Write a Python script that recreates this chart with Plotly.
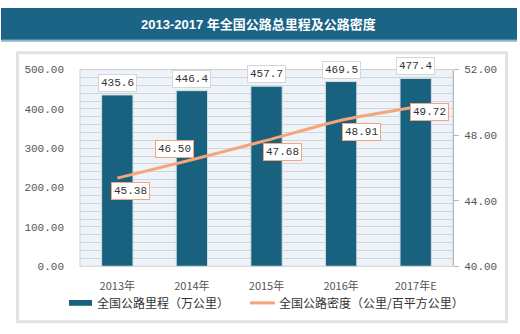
import plotly.graph_objects as go

categories = ["2013年", "2014年", "2015年", "2016年", "2017年E"]
mileage = [435.6, 446.4, 457.7, 469.5, 477.4]
density = [45.38, 46.50, 47.68, 48.91, 49.72]
left_ticks = [0, 100, 200, 300, 400, 500]
right_ticks = [40, 44, 48, 52]
title = "2013-2017 年全国公路总里程及公路密度"
legend_names = ["全国公路里程（万公里）", "全国公路密度（公里/百平方公里）"]

W, H = 520, 334
x0, x1 = 80, 453
y_top, y_bot = 67, 271

NUM_FONT = "Liberation Mono, DejaVu Sans Mono, monospace"
CJK_FONT = "Noto Sans CJK SC, sans-serif"
TITLE_FONT = "Liberation Sans, Noto Sans CJK SC, sans-serif"

fig = go.Figure()
fig.add_trace(go.Bar(
    x=categories, y=mileage, name=legend_names[0],
    marker=dict(color="#18627f", line=dict(color="#d5dde3", width=1)),
    width=0.42, showlegend=False, yaxis="y",
))
fig.add_trace(go.Scatter(
    x=categories, y=density, name=legend_names[1], mode="lines",
    line=dict(color="#f4a57a", width=3, shape="spline", smoothing=0.6),
    showlegend=False, yaxis="y2",
))

annotations = []
for c, v in zip(categories, mileage):
    annotations.append(dict(
        x=c, y=v, xref="x", yref="y", text=f"{v:.1f}", showarrow=False,
        yanchor="bottom", yshift=3, bgcolor="white", bordercolor="#d6d6d6",
        borderwidth=1, borderpad=2, font=dict(family=NUM_FONT, size=11, color="#333333"),
    ))
offsets = [(13, -13), (-17, 11), (16, -12), (20, -12), (14, -5)]
for c, v, (dx, dy) in zip(categories, density, offsets):
    annotations.append(dict(
        x=c, y=v, xref="x", yref="y2", text=f"{v:.2f}", showarrow=False,
        xshift=dx, yshift=dy, bgcolor="white", bordercolor="#f4a57a",
        borderwidth=1, borderpad=2, font=dict(family=NUM_FONT, size=11, color="#333333"),
    ))
annotations.append(dict(
    x=258 / W, y=1 - 20 / H, xref="paper", yref="paper", text="<b>" + title + "</b>",
    showarrow=False, xanchor="center", yanchor="middle",
    font=dict(family=TITLE_FONT, size=13, color="white"),
))
annotations.append(dict(
    x=95 / W, y=1 - 309 / H, xref="paper", yref="paper", text=legend_names[0],
    showarrow=False, xanchor="left", yanchor="middle",
    font=dict(family=CJK_FONT, size=12, color="#333333"),
))
annotations.append(dict(
    x=277 / W, y=1 - 309 / H, xref="paper", yref="paper", text=legend_names[1],
    showarrow=False, xanchor="left", yanchor="middle",
    font=dict(family=CJK_FONT, size=12, color="#333333"),
))

def px(x):
    return x / W

def py(y):
    return 1 - y / H

shapes = [
    dict(type="rect", xref="paper", yref="paper", x0=px(1), x1=px(517), y0=py(38), y1=py(36),
         fillcolor="#8fb6ca", line=dict(width=0), layer="below"),
    dict(type="rect", xref="paper", yref="paper", x0=px(1), x1=px(517), y0=py(36), y1=py(3),
         fillcolor="#1b6485", line=dict(width=0), layer="below"),
    dict(type="rect", xref="paper", yref="paper", x0=px(16), x1=px(508), y0=py(330), y1=py(48),
         fillcolor="#e2e2e2", line=dict(width=0), layer="below"),
    dict(type="rect", xref="paper", yref="paper", x0=px(19), x1=px(505), y0=py(327), y1=py(51),
         fillcolor="white", line=dict(width=0), layer="below"),
    dict(type="rect", xref="paper", yref="paper", x0=px(x0), x1=px(x1), y0=py(y_bot), y1=py(y_top),
         fillcolor="#edf3f8", line=dict(color="#c9cfd6", width=1), layer="below"),
    dict(type="rect", xref="paper", yref="paper", x0=px(69), x1=px(92), y0=py(312), y1=py(306),
         fillcolor="#18627f", line=dict(width=0)),
    dict(type="line", xref="paper", yref="paper", x0=px(250), x1=px(275), y0=py(309), y1=py(309),
         line=dict(color="#f4a57a", width=3)),
]

fig.update_layout(
    width=W, height=H, margin=dict(l=0, r=0, t=0, b=0),
    paper_bgcolor="white", plot_bgcolor="rgba(0,0,0,0)",
    xaxis=dict(domain=[px(x0), px(x1)], showgrid=False, showline=False, ticks="",
               ticklabelstandoff=12,
               tickfont=dict(family=CJK_FONT, size=11, color="#555555")),
    yaxis=dict(domain=[py(y_bot), py(y_top)], range=[0, 500], tickvals=left_ticks,
               ticktext=[f"{t:.2f}" for t in left_ticks], showgrid=True, gridcolor="#cfd5dc",
               gridwidth=1, minor=dict(dtick=20, showgrid=True, gridcolor="#cfd5dc", gridwidth=1),
               zeroline=False, showline=False, ticks="", ticklabelstandoff=15,
               tickfont=dict(family=NUM_FONT, size=11, color="#555555")),
    yaxis2=dict(overlaying="y", side="right", range=[40, 52], tickvals=right_ticks,
                ticktext=[f"{t:.2f}" for t in right_ticks], showgrid=False, zeroline=False,
                showline=True, linecolor="#b8b8b8", ticks="outside", ticklen=5, tickcolor="#b8b8b8",
                ticklabelstandoff=3,
                tickfont=dict(family=NUM_FONT, size=11, color="#555555")),
    annotations=annotations, shapes=shapes,
)

fig.write_html("out.html")
